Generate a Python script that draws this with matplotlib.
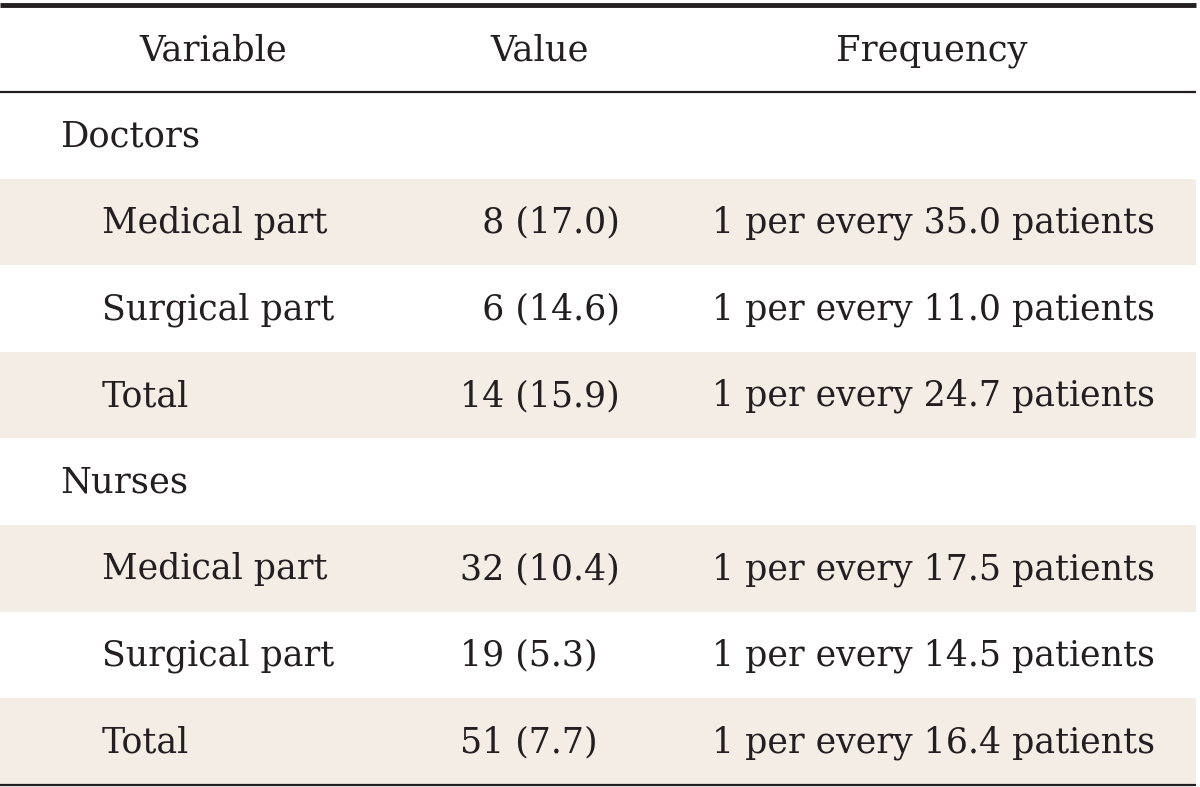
import matplotlib.pyplot as plt
from matplotlib.patches import Rectangle

plt.rcParams['font.family'] = ['DejaVu Serif']

# table content
headers = ['Variable', 'Value', 'Frequency']
groups = ['Doctors', 'Nurses']
parts = ['Medical part', 'Surgical part', 'Total']
counts = [[8, 6, 14], [32, 19, 51]]
percents = [[17.0, 14.6, 15.9], [10.4, 5.3, 7.7]]
per_patients = [[35.0, 11.0, 24.7], [17.5, 14.5, 16.4]]

W, H = 1200, 787
fig = plt.figure(figsize=(W / 100, H / 100), dpi=100)
ax = fig.add_axes([0, 0, 1, 1])
ax.set_xlim(0, W)
ax.set_ylim(H, 0)
ax.axis('off')

shade = '#f3ede6'
txt = '#231f20'
fs = 25

top = 5
head_bottom = 92
row_h = 86.6

# rules
ax.plot([0, 1196], [top, top], color=txt, lw=3.5, solid_capstyle='butt')
ax.plot([0, 1196], [head_bottom, head_bottom], color=txt, lw=1.6, solid_capstyle='butt')

# header
head_x = [213, 540, 932]
for x, h in zip(head_x, headers):
    ax.text(x, (top + head_bottom) / 2 + 2, h, ha='center', va='center', fontsize=fs + 0.5, color=txt)

y = head_bottom
for g, grp in enumerate(groups):
    ax.text(60, y + row_h / 2 + 1, grp, ha='left', va='center', fontsize=fs + 0.5, color=txt)
    y += row_h
    for i, part in enumerate(parts):
        if i % 2 == 0:
            ax.add_patch(Rectangle((0, y), 1196, row_h, color=shade, lw=0, zorder=0))
        cy = y + row_h / 2 + 1
        ax.text(102, cy, part, ha='left', va='center', fontsize=fs, color=txt)
        n = counts[g][i]
        val = f'{n} ({percents[g][i]:.1f})'
        if n < 10:
            val = '\u2007' + val
        ax.text(460, cy, val, ha='left', va='center', fontsize=fs, color=txt)
        ax.text(712, cy, f'1 per every {per_patients[g][i]:.1f} patients',
                ha='left', va='center', fontsize=fs, color=txt)
        y += row_h

ax.plot([0, 1196], [y, y], color=txt, lw=1.6, solid_capstyle='butt')

fig.savefig('out.png', dpi=100)
